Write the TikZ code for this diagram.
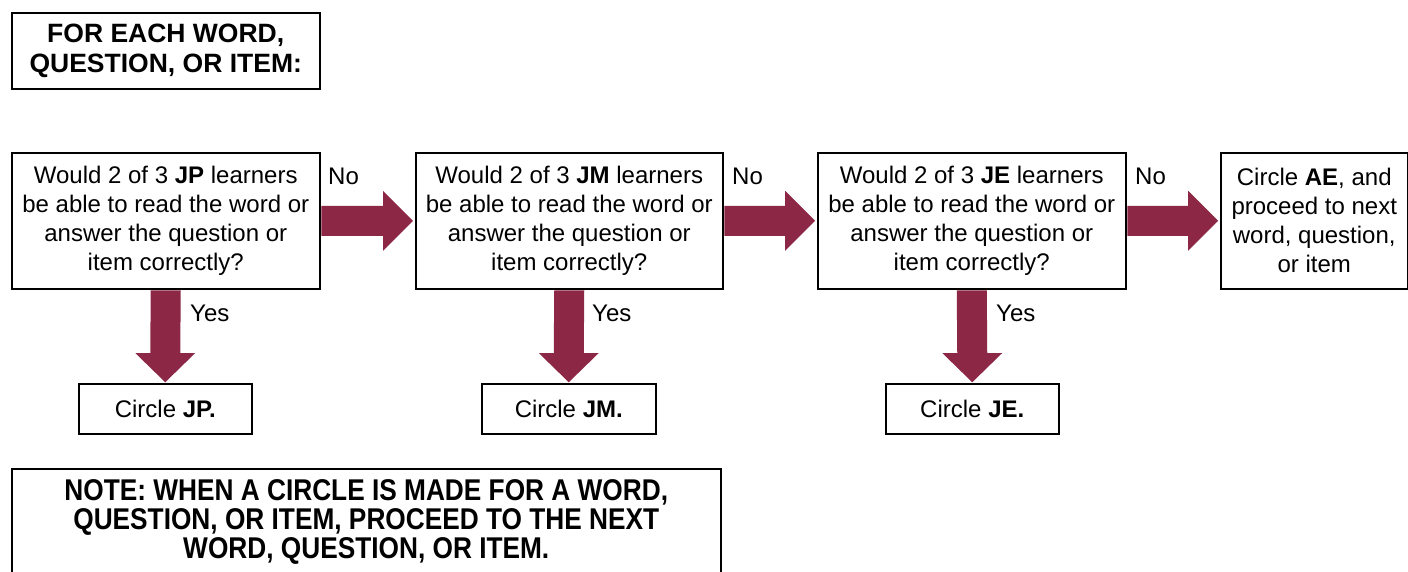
\documentclass[tikz,border=0pt]{standalone}
\usepackage{fontspec}
\setmainfont{Liberation Sans}
\newfontfamily\narrowfont[FakeStretch=0.875]{Liberation Sans}
\usetikzlibrary{calc}
\definecolor{arrowred}{RGB}{140,40,70}
\begin{document}
\begin{tikzpicture}[x=1pt,y=-1pt,
  box/.style={draw=black, line width=1.5pt, fill=white, anchor=north west, inner sep=0pt, align=center, font=\fontsize{24}{29}\selectfont},
  headbox/.style={draw=black, line width=1.5pt, fill=white, anchor=north west, inner sep=0pt, align=center, font=\fontsize{26.5}{30}\selectfont\bfseries},
  notebox/.style={draw=black, line width=1.5pt, fill=white, anchor=north west, inner sep=0pt, align=center, font=\fontsize{30}{29}\selectfont\narrowfont\bfseries},
  lbl/.style={inner sep=0pt, anchor=west, font=\fontsize{24}{29}\selectfont},
  barrow/.style={fill=arrowred, draw=none}]
\useasboundingbox (0,0) rectangle (1408,571);

\node[headbox, minimum width=308pt, minimum height=76pt] (head) at (11,12) {FOR EACH WORD,\\QUESTION, OR ITEM:};

\node[box, minimum width=308pt, minimum height=136pt] (b1) at (11,152) {Would 2 of 3 \textbf{JP} learners\\be able to read the word or\\answer the question or\\item correctly?};
\node[box, minimum width=307pt, minimum height=136pt] (b2) at (415,152) {Would 2 of 3 \textbf{JM} learners\\be able to read the word or\\answer the question or\\item correctly?};
\node[box, minimum width=308pt, minimum height=136pt] (b3) at (817,152) {Would 2 of 3 \textbf{JE} learners\\be able to read the word or\\answer the question or\\item correctly?};
\node[box, minimum width=187pt, minimum height=136pt] (b4) at (1220,152) {Circle \textbf{AE}, and\\proceed to next\\word, question,\\or item};

\node[box, minimum width=173pt, minimum height=50pt] (c1) at (78,383) {Circle \textbf{JP.}};
\node[box, minimum width=174pt, minimum height=50pt] (c2) at (481,383) {Circle \textbf{JM.}};
\node[box, minimum width=173pt, minimum height=50pt] (c3) at (885,383) {Circle \textbf{JE.}};

\node[notebox, minimum width=709pt, minimum height=106pt] (note) at (11,468) {NOTE: WHEN A CIRCLE IS MADE FOR A WORD,\\QUESTION, OR ITEM, PROCEED TO THE NEXT\\WORD, QUESTION, OR ITEM.};

% horizontal block arrows
\foreach \a/\b in {b1/b2, b2/b3, b3/b4}{
  \fill[barrow] ($(\a.east)+(0.75,-15)$) -- ($(\b.west)+(-32,-15)$) -- ($(\b.west)+(-32,-30)$) -- ($(\b.west)+(-2,0)$) -- ($(\b.west)+(-32,30)$) -- ($(\b.west)+(-32,15)$) -- ($(\a.east)+(0.75,15)$) -- cycle;
}
% vertical block arrows
\foreach \a/\b in {b1/c1, b2/c2, b3/c3}{
  \fill[barrow] ($(\a.south)+(-15,0.75)$) -- ($(\b.north)+(-15,-30)$) -- ($(\b.north)+(-30,-30)$) -- ($(\b.north)+(0,-0.75)$) -- ($(\b.north)+(30,-30)$) -- ($(\b.north)+(15,-30)$) -- ($(\a.south)+(15,0.75)$) -- cycle;
}

\node[lbl] (no1) at (328,176) {No};
\node[lbl] (no2) at (732,176) {No};
\node[lbl] (no3) at (1135,176) {No};
\node[lbl] (yes1) at (190,313) {Yes};
\node[lbl] (yes2) at (592,313) {Yes};
\node[lbl] (yes3) at (996,313) {Yes};
\end{tikzpicture}
\end{document}
